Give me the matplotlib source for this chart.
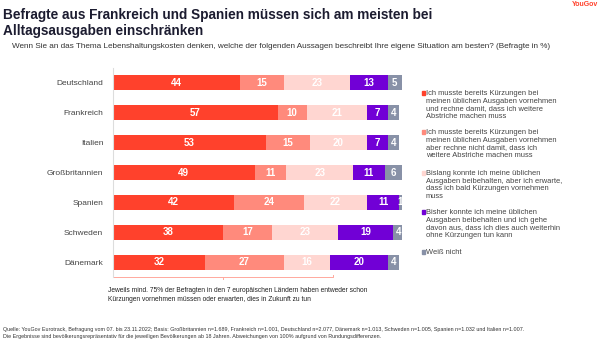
import matplotlib.pyplot as plt
import numpy as np

plt.rcParams['font.family'] = ['Liberation Sans', 'DejaVu Sans']

# Daten (Befragte in %)
laender = ['Deutschland', 'Frankreich', 'Italien', 'Großbritannien', 'Spanien', 'Schweden', 'Dänemark']
kuerzung_weitere = [44, 57, 53, 49, 42, 38, 32]
kuerzung_keine_weiteren = [15, 10, 15, 11, 24, 17, 27]
bald_kuerzung = [23, 21, 20, 23, 22, 23, 16]
ohne_kuerzung = [13, 7, 7, 11, 11, 19, 20]
weiss_nicht = [5, 4, 4, 6, 1, 4, 4]

legende = [
    'Ich musste bereits Kürzungen bei\nmeinen üblichen Ausgaben vornehmen\nund rechne damit, dass ich weitere\nAbstriche machen muss',
    'Ich musste bereits Kürzungen bei\nmeinen üblichen Ausgaben vornehmen\naber rechne nicht damit, dass ich\nweitere Abstriche machen muss',
    'Bislang konnte ich meine üblichen\nAusgaben beibehalten, aber ich erwarte,\ndass ich bald Kürzungen vornehmen\nmuss',
    'Bisher konnte ich meine üblichen\nAusgaben beibehalten und ich gehe\ndavon aus, dass ich dies auch weiterhin\nohne Kürzungen tun kann',
    'Weiß nicht',
]
farben = ['#ff412c', '#ff8a7c', '#ffd6d1', '#7100d6', '#8891a7']

serien = [kuerzung_weitere, kuerzung_keine_weiteren, bald_kuerzung, ohne_kuerzung, weiss_nicht]

W, H = 602, 342
fig = plt.figure(figsize=(W / 100, H / 100), dpi=100)

# Titel usw.
fig.text(3 / W, 1 - 8 / H, 'Befragte aus Frankreich und Spanien müssen sich am meisten bei\nAlltagsausgaben einschränken',
         fontsize=9.8, fontweight='bold', color='#1c1c30', va='top', ha='left', linespacing=1.15)
fig.text(598 / W, 1 - 5 / H, 'YouGov', fontsize=5, fontweight='bold', color='#ff412c', ha='right', va='center')
fig.text(12 / W, 1 - 47 / H,
         'Wenn Sie an das Thema Lebenshaltungskosten denken, welche der folgenden Aussagen beschreibt Ihre eigene Situation am besten? (Befragte in %)',
         fontsize=5.9, color='#333333', va='center', ha='left')

ax = fig.add_axes([113 / W, 1 - 277 / H, 289 / W, 209 / H])
y = np.arange(len(laender))
links = np.zeros(len(laender))
for i, (werte, farbe) in enumerate(zip(serien, farben)):
    werte = np.array(werte)
    ax.barh(y, werte, left=links, height=0.5, color=farbe, edgecolor='none')
    for yy, l, v in zip(y, links, werte):
        ax.text(l + v / 2, yy, str(v), ha='center', va='center', color='white',
                fontsize=7, fontweight='bold')
    links = links + werte

ax.set_xlim(0, 100)
ax.set_ylim(len(laender) - 0.5, -0.5)
ax.set_yticks(y)
ax.set_yticklabels(laender, fontsize=6, color='#444444')
ax.tick_params(axis='y', length=0, pad=7)
ax.set_xticks([])
for s in ['top', 'right', 'bottom']:
    ax.spines[s].set_visible(False)
ax.spines['left'].set_color('#dddddd')
ax.spines['left'].set_linewidth(0.8)

# Klammer unter den Balken: min. Summe der ersten drei Antworten
drei = np.array(kuerzung_weitere) + np.array(kuerzung_keine_weiteren) + np.array(bald_kuerzung)
ende = drei.min() + 1
yb = len(laender) - 0.5
ax.plot([0, 0, ende, ende], [yb - 0.06, yb, yb, yb - 0.06], color='#ffa99d', lw=0.7, clip_on=False)
ax.plot([ende / 2, ende / 2], [yb, yb + 0.06], color='#ffa99d', lw=0.7, clip_on=False)

# Legende
leg_y = [93, 132, 173, 212, 252]
for txt, farbe, py in zip(legende, farben, leg_y):
    fig.patches.append(plt.Rectangle((421.5 / W, 1 - (py + 1.6) / H), 3.2 / W, 3.2 / H,
                                     transform=fig.transFigure, color=farbe))
    fig.text(426 / W, 1 - (py - 3) / H, txt, fontsize=5.4, color='#444444', va='top', ha='left',
             linespacing=1.12)

fig.text(108 / W, 1 - 295 / H,
         'Jeweils mind. 75% der Befragten in den 7 europäischen Ländern haben entweder schon\nKürzungen vornehmen müssen oder erwarten, dies in Zukunft zu tun',
         fontsize=4.75, color='#222222', va='center', ha='left', linespacing=1.4)

fig.text(3 / W, 1 - 333 / H,
         'Quelle: YouGov Eurotrack, Befragung vom 07. bis 23.11.2022; Basis: Großbritannien n=1.689, Frankreich n=1.001, Deutschland n=2.077, Dänemark n=1.013, Schweden n=1.005, Spanien n=1.032 und Italien n=1.007.\n'
         'Die Ergebnisse sind bevölkerungsrepräsentativ für die jeweiligen Bevölkerungen ab 18 Jahren. Abweichungen von 100% aufgrund von Rundungsdifferenzen.',
         fontsize=3.9, color='#333333', va='center', ha='left', linespacing=1.3)

fig.savefig('out.png', dpi=100)
